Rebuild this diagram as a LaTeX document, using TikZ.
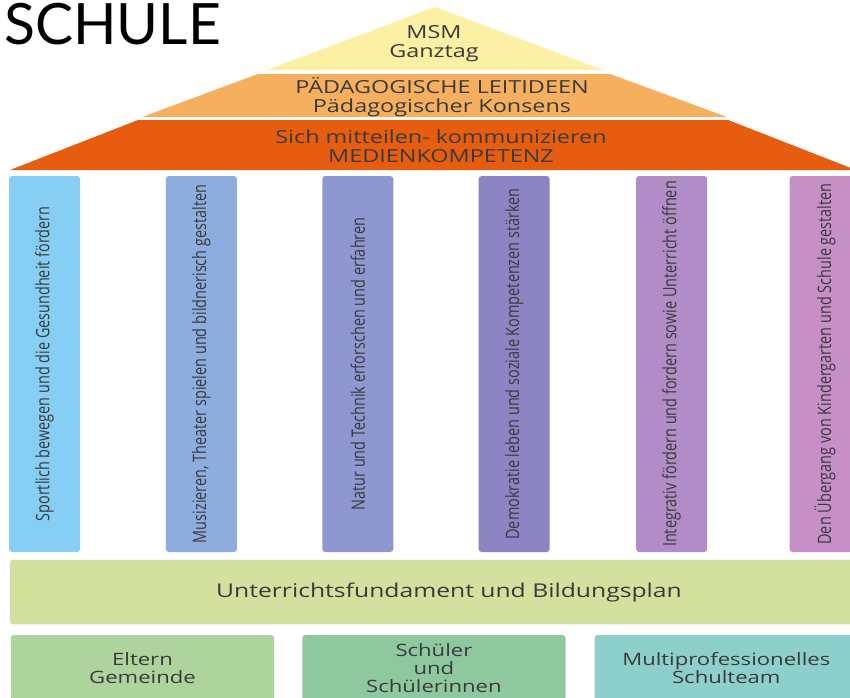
\documentclass[tikz,border=0pt]{standalone}
\usepackage{fontspec}
\setmainfont{Open Sans}[FakeStretch=1.3]
\newfontfamily\pillarfont{Open Sans}[FakeStretch=0.78]
\newfontfamily\titlefont{Lato}
\usepackage{tikz}
\usetikzlibrary{positioning}
\definecolor{roofyellow}{HTML}{FCF0A4}
\definecolor{roofmid}{HTML}{F5AF5E}
\definecolor{roofdark}{HTML}{E65D0F}
\definecolor{pillarA}{HTML}{86CEF3}
\definecolor{pillarB}{HTML}{8DADDE}
\definecolor{pillarC}{HTML}{8E97D0}
\definecolor{pillarD}{HTML}{8D85C3}
\definecolor{pillarE}{HTML}{B08DC6}
\definecolor{pillarF}{HTML}{C68FC5}
\definecolor{basegreen}{HTML}{D4E09E}
\definecolor{boxA}{HTML}{AED49D}
\definecolor{boxB}{HTML}{8DC89E}
\definecolor{boxC}{HTML}{8DD0CB}
\definecolor{textgray}{HTML}{3A3A3A}
\tikzset{
title/.style = {font=\titlefont\fontsize{57}{57}\selectfont, inner sep=0pt, anchor=base west},
rooftext/.style = {align=center, text=textgray, inner sep=0pt, font=\fontsize{18}{19}\selectfont},
pillar/.style = {rounded corners=3pt, minimum width=71pt, minimum height=376pt, inner sep=0pt, text=textgray, font=\pillarfont\fontsize{18.5}{20}\selectfont},
base/.style = {draw=black!20, fill=basegreen, rounded corners=3pt, minimum width=878pt, minimum height=64pt, text=textgray, font=\fontsize{19}{22}\selectfont},
group/.style = {draw=black!20, rounded corners=3pt, minimum width=263pt, minimum height=66pt, inner sep=0pt, align=center, text=textgray, font=\fontsize{17}{18}\selectfont}
}
\begin{document}
\begin{tikzpicture}[x=1pt, y=-1pt]
    \useasboundingbox (0,0) rectangle (850,697);
    \clip (0,0) rectangle (850,697);
    \fill [white] (0,0) rectangle (850,697);
    \node [title] (schule) at (4,44) {SCHULE};
    \fill [roofyellow] (435,7) -- (267,70) -- (603,70) -- cycle;
    \fill [roofmid] (258,74) -- (142,117) -- (727,117) -- (610,74) -- cycle;
    \fill [roofdark] (138,120) -- (10,170) -- (856,170) -- (728,120) -- cycle;
    \node [rooftext] (msm) at (434,44) {MSM\\Ganztag};
    \node [rooftext] (leitideen) at (442,97) {PÄDAGOGISCHE LEITIDEEN\\Pädagogischer Konsens};
    \node [rooftext] (medien) at (441,146) {Sich mitteilen- kommunizieren\\MEDIENKOMPETENZ};
    \node [pillar, fill=pillarA] (sport) at (44.5,364) {\rotatebox{90}{Sportlich bewegen und die Gesundheit fördern}};
    \node [pillar, fill=pillarB, right=85.5pt of sport] (musik) {\rotatebox{90}{Musizieren, Theater spielen und bildnerisch gestalten}};
    \node [pillar, fill=pillarC, right=85pt of musik] (natur) {\rotatebox{90}{Natur und Technik erforschen und erfahren}};
    \node [pillar, fill=pillarD, right=85pt of natur] (demokratie) {\rotatebox{90}{Demokratie leben und soziale Kompetenzen stärken}};
    \node [pillar, fill=pillarE, right=86pt of demokratie] (integration) {\rotatebox{90}{Integrativ fördern und fordern sowie Unterricht öffnen}};
    \node [pillar, fill=pillarF, right=82pt of integration] (uebergang) {\rotatebox{90}{Den Übergang von Kindergarten und Schule gestalten}};
    \node [base] (fundament) at (449,592) {Unterrichtsfundament und Bildungsplan};
    \node [group, fill=boxA] (eltern) at (142.5,668) {Eltern\\Gemeinde};
    \node [group, fill=boxB, right=28pt of eltern] (schueler) {Schüler\\und\\Schülerinnen};
    \node [group, fill=boxC, right=29pt of schueler] (team) {Multiprofessionelles\\Schulteam};
\end{tikzpicture}
\end{document}
